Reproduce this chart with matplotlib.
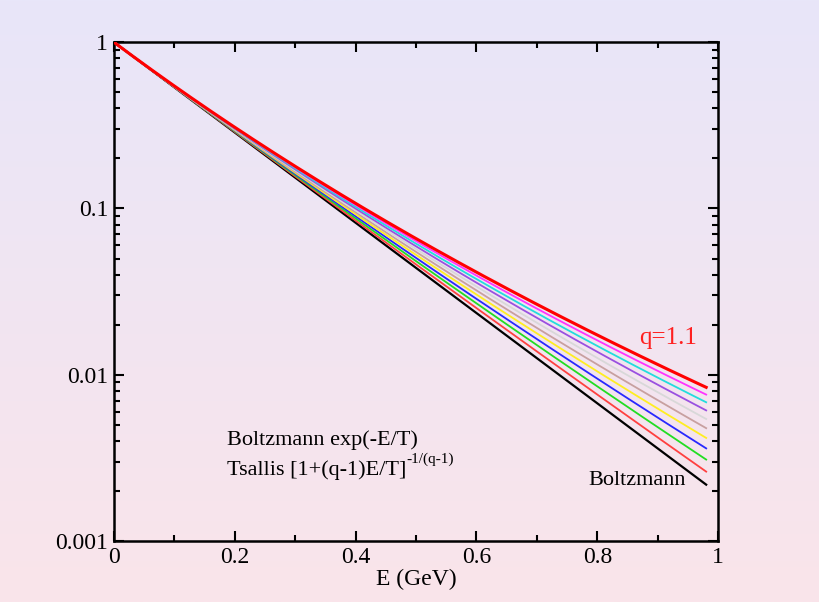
import numpy as np
import matplotlib
matplotlib.use("Agg")
import matplotlib.pyplot as plt
from matplotlib.ticker import LogLocator, MultipleLocator, FixedFormatter, FixedLocator, NullFormatter

plt.rcParams['font.family'] = ['Liberation Serif', 'DejaVu Serif']

# Parameters
T = 0.16                      # temperature (GeV)
E_max = 0.98
q_values = [1.01, 1.02, 1.03, 1.04, 1.05, 1.06, 1.07, 1.08, 1.09, 1.10]
q_colors = ['#ff4040', '#22dd22', '#2828ff', '#ffee22', '#c8a0a0',
            '#d8d8d8', '#9a50e0', '#22dddd', '#ff33ff', '#ff0000']
y_ticks = [0.001, 0.01, 0.1, 1]
y_tick_labels = ['0.001', '0.01', '0.1', '1']
x_ticks = [0, 0.2, 0.4, 0.6, 0.8, 1]
x_tick_labels = ['0', '0.2', '0.4', '0.6', '0.8', '1']

E = np.linspace(0, E_max, 400)

fig = plt.figure(figsize=(8.19, 6.02), dpi=100)
# gradient background
bg = fig.add_axes([0, 0, 1, 1], zorder=-10)
top = np.array([232, 230, 249]) / 255
bot = np.array([250, 228, 234]) / 255
t = np.linspace(0, 1, 256)[:, None]
grad = top[None, :] * (1 - t) + bot[None, :] * t
bg.imshow(grad[:, None, :], aspect='auto', extent=[0, 1, 0, 1])
bg.axis('off')

ax = fig.add_axes([0.139, 0.101, 0.738, 0.829])
ax.patch.set_alpha(0)

ax.plot(E, np.exp(-E / T), color='black', lw=1.6, zorder=3)
for q, c in zip(q_values, q_colors):
    y = (1 + (q - 1) * E / T) ** (-1 / (q - 1))
    lw = 2.2 if q == q_values[-1] else 1.3
    ax.plot(E, y, color=c, lw=lw, zorder=3)

ax.set_yscale('log')
ax.set_xlim(0, 1)
ax.set_ylim(0.001, 1)
ax.yaxis.set_major_locator(FixedLocator(y_ticks))
ax.yaxis.set_major_formatter(FixedFormatter(y_tick_labels))
ax.yaxis.set_minor_locator(LogLocator(base=10, subs=np.arange(2, 10)))
ax.yaxis.set_minor_formatter(NullFormatter())
ax.xaxis.set_major_locator(FixedLocator(x_ticks))
ax.xaxis.set_major_formatter(FixedFormatter(x_tick_labels))
ax.xaxis.set_minor_locator(MultipleLocator(0.1))

ax.tick_params(which='both', direction='in', top=True, right=True, width=1.5,
               labelsize=17)
ax.tick_params(which='major', length=7, pad=4)
ax.tick_params(which='minor', length=4)
for s in ax.spines.values():
    s.set_linewidth(1.8)

ax.set_xlabel('E (GeV)', fontsize=17, labelpad=1)

ax.text(0.188, 0.00404, 'Boltzmann exp(-E/T)', fontsize=16, va='center')
ts = ax.text(0.188, 0.00267, 'Tsallis [1+(q-1)E/T]', fontsize=16, va='center')
ax.annotate('-1/(q-1)', xy=(1.0, 0.72), xycoords=ts, fontsize=11,
            va='bottom', ha='left')
ax.text(0.785, 0.00233, 'Boltzmann', fontsize=16, va='center', ha='left')
ax.text(0.917, 0.0166, 'q=1.1', fontsize=18, color='#ff2020', ha='center',
        va='center')

fig.savefig('out.png', dpi=100)
